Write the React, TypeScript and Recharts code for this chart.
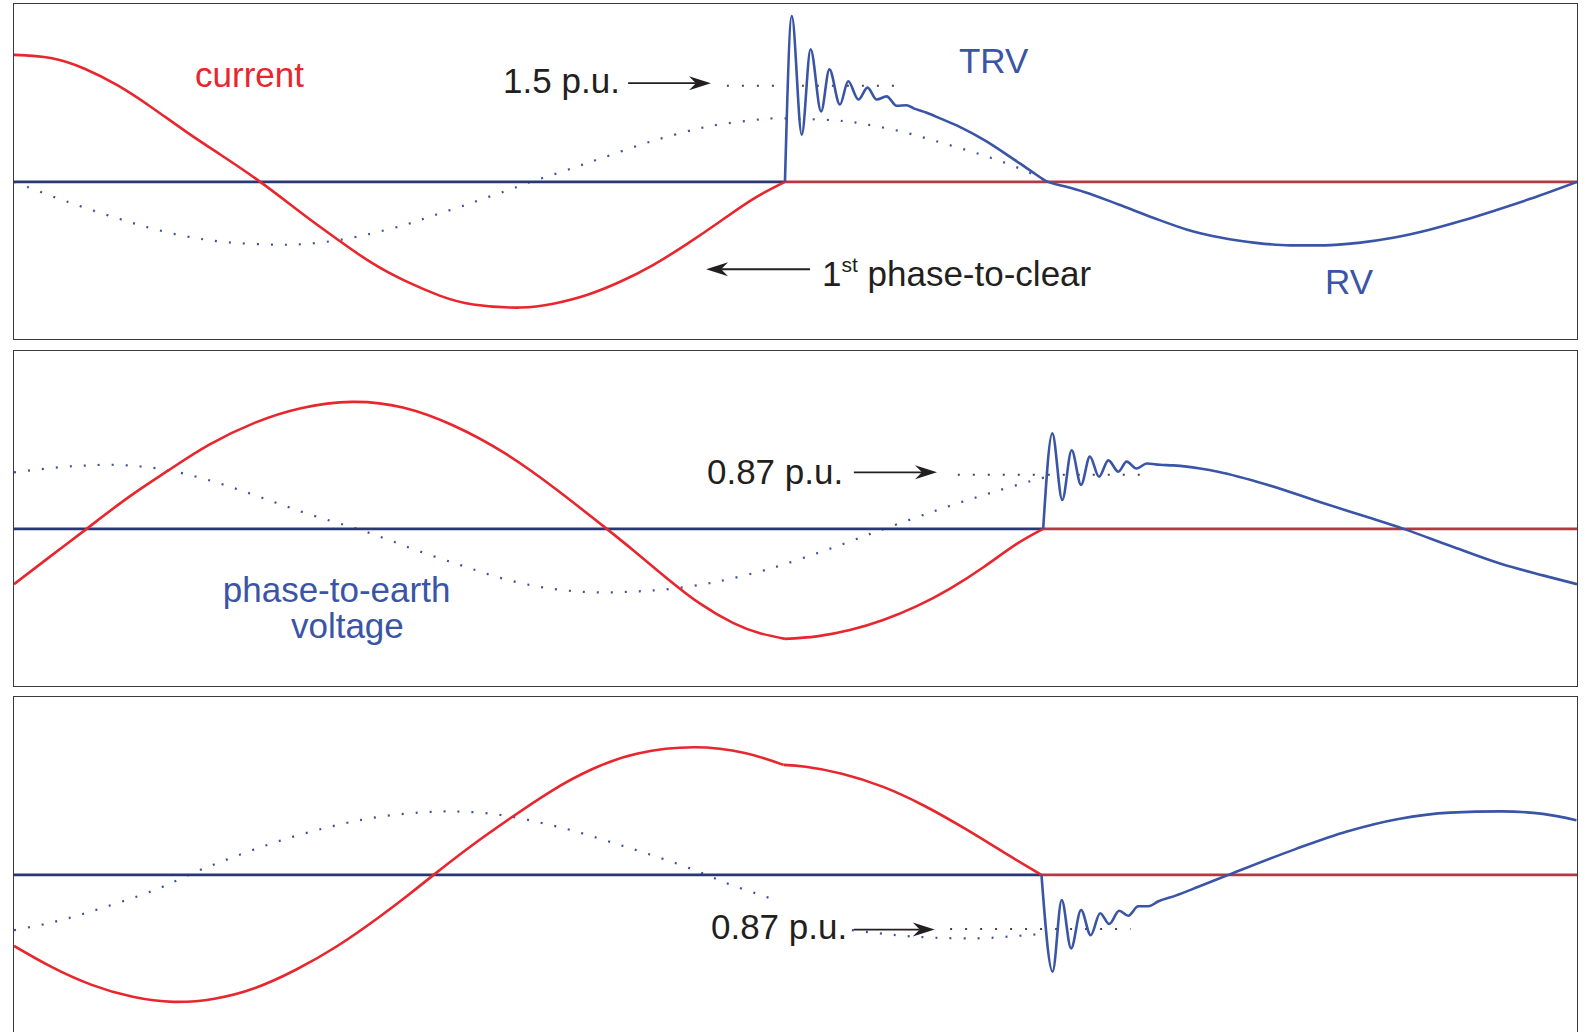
import React from "react";
import { LineChart, Line, XAxis, YAxis, ReferenceDot, ReferenceLine } from "recharts";

type Pt = [number, number];

// x: electrical degrees from the left edge of a panel, y: per unit (phase voltage peak = 1)

// panel 1 - first phase to clear
const current1: Pt[] = [
  [0, 2.02], [12.9, 1.97], [24.8, 1.8], [36.6, 1.53], [48.5, 1.18], [60.4, 0.8], [72.3, 0.44],
  [86.5, 0], [102, -0.53], [113.8, -0.92], [125.7, -1.29], [137.6, -1.58], [149.5, -1.81],
  [161.3, -1.95], [177.7, -2.0], [189.4, -1.94], [201.2, -1.8], [212.9, -1.59], [224.6, -1.32],
  [236.3, -0.99], [248, -0.63], [259.7, -0.27], [270.8, 0],
];
const currentOff1: Pt[] = [[270.8, 0], [549, 0]];
const breakerV1: Pt[] = [[0, 0], [270.8, 0]];
const trv1: Pt[] = [
  [270.8, 0], [273.2, 2.64], [276.7, 0.75], [279.8, 2.11], [283.5, 1.12], [286.4, 1.79],
  [290.1, 1.23], [293, 1.6], [296.6, 1.31], [299.8, 1.5], [303, 1.31], [306.5, 1.36], [310, 1.21],
  [313.5, 1.22], [316, 1.17], [320.6, 1.1], [325.3, 1.01], [332, 0.88], [341, 0.66], [350.8, 0.37],
  [357, 0.18], [363.2, 0], [369, -0.07], [375.9, -0.16], [388, -0.36], [400.1, -0.57],
  [412.1, -0.76], [424.2, -0.89], [436.2, -0.97], [448.3, -1.01], [460.3, -1.01], [472.3, -0.97],
  [484.4, -0.89], [496.5, -0.77], [508.5, -0.62], [520.5, -0.45], [532.6, -0.27], [549, 0],
];
const phaseV1: Pt[] = [
  [0, 0], [4.6, -0.08], [14.7, -0.25], [24.8, -0.41], [34.9, -0.56], [44.4, -0.69], [54.5, -0.81],
  [64.6, -0.9], [74.6, -0.96], [85.3, -0.99], [96, -1.0], [106.7, -0.97], [117.4, -0.9],
  [127.5, -0.8], [137.6, -0.68], [147, -0.54], [157.2, -0.39], [167.3, -0.23], [176.7, -0.08],
  [181.4, 0], [191, 0.14], [200.7, 0.29], [210.4, 0.44], [220.7, 0.6], [230.4, 0.73],
  [240.6, 0.85], [250.3, 0.93], [261.2, 0.99], [270, 1.01], [287.8, 0.98], [298.7, 0.92],
  [310.8, 0.81], [322.9, 0.66], [335, 0.5], [345.8, 0.34], [355.5, 0.17], [363, 0],
];
const level1: Pt[] = [[250.4, 1.53], [313.4, 1.53]];

// panel 2 - second phase
const current2a: Pt[] = [
  [0, -0.88], [13, -0.43], [25.5, 0], [39.8, 0.49], [54.2, 0.93], [68.6, 1.34], [84.7, 1.69],
  [100.8, 1.92], [118.7, 2.02], [136.6, 1.93], [154.5, 1.64], [172.5, 1.2], [190.4, 0.63],
  [208.2, 0], [217.5, -0.34], [229.2, -0.78], [241, -1.19], [252.7, -1.5], [262, -1.66],
  [270.8, -1.75],
];
const current2b: Pt[] = [
  [270.8, -1.75], [282, -1.71], [293.6, -1.61], [305.3, -1.45], [317.1, -1.23], [328.8, -0.95],
  [340.5, -0.61], [352.2, -0.24], [361.5, 0],
];
const currentOff2: Pt[] = [[361.5, 0], [549, 0]];
const breakerV2: Pt[] = [[0, 0], [361.5, 0]];
const trv2: Pt[] = [
  [361.5, 0], [364.7, 1.52], [368.2, 0.46], [371.5, 1.25], [374.8, 0.7], [377.9, 1.15],
  [381.1, 0.83], [384.4, 1.09], [387.9, 0.91], [390.8, 1.07], [394.3, 0.96], [397.9, 1.04],
  [402.5, 1.02], [407.2, 1.01], [411.9, 0.99], [416.6, 0.96], [422.9, 0.91], [441.1, 0.69],
  [459.2, 0.42], [477.3, 0.16], [488.1, 0], [504.4, -0.27], [522.5, -0.56], [537, -0.74],
  [549, -0.88],
];
const phaseV2: Pt[] = [
  [0, 0.9], [9.4, 0.95], [18.4, 0.99], [26.4, 1.01], [34.5, 1.02], [42.6, 1.0], [50.6, 0.96],
  [59.6, 0.88], [70.3, 0.75], [81.1, 0.59], [91.8, 0.42], [102.5, 0.25], [113.3, 0.1],
  [120.5, 0], [131.3, -0.17], [143.8, -0.38], [156.4, -0.57], [167.1, -0.73], [177.8, -0.86],
  [188.5, -0.95], [199.3, -1.0], [210, -1.01], [220.9, -0.99], [231.6, -0.95], [242.3, -0.88],
  [251, -0.8], [261, -0.69], [270.8, -0.56], [282.5, -0.38], [292.5, -0.22], [300.7, -0.08],
  [305.5, 0], [316.2, 0.17], [327, 0.34], [337.9, 0.5], [348.7, 0.65], [359.6, 0.79], [363.2, 0.83],
];
const level2: Pt[] = [[331.5, 0.86], [398, 0.86]];

// panel 3 - third phase
const current3a: Pt[] = [
  [0, -1.13], [13, -1.46], [27.3, -1.75], [41.7, -1.94], [56, -2.02], [70.4, -1.97],
  [84.7, -1.8], [99, -1.51], [113.3, -1.14], [127.7, -0.69], [138.5, -0.32], [147.4, 0],
  [160, 0.44], [174.3, 0.9], [188.6, 1.33], [203, 1.68], [219.1, 1.93], [238.8, 2.03],
  [256.7, 1.94], [270.3, 1.75],
];
const current3b: Pt[] = [
  [270.3, 1.75], [278.1, 1.72], [290.8, 1.61], [305.3, 1.4], [319.7, 1.1], [334.2, 0.73],
  [348.7, 0.33], [360.9, 0],
];
const currentOff3: Pt[] = [[360.9, 0], [549, 0]];
const breakerV3: Pt[] = [[0, 0], [360.9, 0]];
const trv3: Pt[] = [
  [360.9, 0], [364.8, -1.54], [368, -0.4], [371.3, -1.17], [374.8, -0.56], [378.2, -0.96],
  [381.5, -0.61], [384.7, -0.78], [388.2, -0.57], [391.4, -0.65], [394.9, -0.5], [398.4, -0.5],
  [402, -0.42], [408, -0.33], [416, -0.19], [426.6, 0], [450.1, 0.41], [468.2, 0.69],
  [486.3, 0.89], [504.4, 0.99], [522.5, 1.01], [537, 0.97], [548.8, 0.87],
];
const phaseV3a: Pt[] = [
  [0, -0.88], [13, -0.76], [25.1, -0.61], [37.6, -0.43], [50.6, -0.22], [61.4, 0], [72.2, 0.2],
  [84.7, 0.41], [99, 0.62], [113.3, 0.79], [127.7, 0.92], [142, 0.99], [152.8, 1.01],
  [163.5, 0.99], [174.3, 0.93], [185, 0.83], [195.8, 0.71], [208.3, 0.54], [220.9, 0.36],
  [233.4, 0.17], [243.3, 0], [251.4, -0.15], [260.3, -0.29], [267.5, -0.4],
];
const phaseV3b: Pt[] = [
  [294.3, -0.88], [310, -0.96], [323.4, -1.0], [338, -1.01], [350, -0.98], [361.1, -0.94],
];
const level3: Pt[] = [[328.8, -0.86], [392.2, -0.86]];

const W = 1563;
const H = 335;
const X_DOMAIN: [number, number] = [0, 549];
const Y_DOMAIN: [number, number] = [-2.5, 2.83];

const RED = "#e8262d";
const BLUE = "#3a54a6";
const NAVY = "#2a3775";
const MAROON = "#b23a40";
const DOTS = "#3b52a3";
const INK = "#231f20";
const FONT = '"Liberation Sans", Arial, Helvetica, sans-serif';

const rows = (pts: Pt[]) => pts.map(([x, y]) => ({ x, y }));

type Curve = "natural" | "monotone" | "linear";
type Series = { pts: Pt[]; stroke: string; width: number; dash?: string; curve: Curve };
type Note = { x: number; y: number; text: string; color: string; anchor?: "start" | "middle"; sup?: [string, string] };
type Arrow = { from: Pt; to: Pt };

function Caption(p: any) {
  const { cx, cy, note } = p as { cx: number; cy: number; note: Note };
  if (note.sup) {
    return (
      <text x={cx} y={cy} fill={note.color} fontSize={35} fontFamily={FONT}>
        <tspan>{note.text}</tspan>
        <tspan fontSize={21} dy={-14}>{note.sup[0]}</tspan>
        <tspan dy={14}>{note.sup[1]}</tspan>
      </text>
    );
  }
  return (
    <text x={cx} y={cy} fill={note.color} fontSize={35} fontFamily={FONT} textAnchor={note.anchor ?? "start"}>
      {note.text}
    </text>
  );
}

function ArrowShape(p: any) {
  const { x1, y1, x2, y2 } = p;
  const dx = x2 - x1;
  const dy = y2 - y1;
  const len = Math.hypot(dx, dy) || 1;
  const ux = dx / len;
  const uy = dy / len;
  const L = 22;
  const half = 7;
  const notch = 15;
  const bx = x2 - ux * L;
  const by = y2 - uy * L;
  const nx = -uy;
  const ny = ux;
  const head = `M${x2},${y2} L${bx + nx * half},${by + ny * half} L${x2 - ux * notch},${y2 - uy * notch} L${bx - nx * half},${by - ny * half} Z`;
  return (
    <g>
      <line x1={x1} y1={y1} x2={x2 - ux * notch} y2={y2 - uy * notch} stroke={INK} strokeWidth={1.8} />
      <path d={head} fill={INK} />
    </g>
  );
}

function Panel({ top, series, notes, arrows }: { top: number; series: Series[]; notes: Note[]; arrows: Arrow[] }) {
  return (
    <div
      style={{
        position: "absolute",
        left: 12.5,
        top: top - 1.5,
        width: W,
        height: H,
        border: "1.5px solid #3a3a3a",
        background: "#fff",
      }}
    >
      <LineChart width={W} height={H} margin={{ top: 0, right: 0, bottom: 0, left: 0 }}>
        <XAxis type="number" dataKey="x" domain={X_DOMAIN} hide allowDataOverflow />
        <YAxis type="number" domain={Y_DOMAIN} hide allowDataOverflow />
        {series.map((s, i) => (
          <Line
            key={i}
            data={rows(s.pts)}
            dataKey="y"
            type={s.curve}
            stroke={s.stroke}
            strokeWidth={s.width}
            strokeDasharray={s.dash}
            dot={false}
            activeDot={false}
            isAnimationActive={false}
          />
        ))}
        {arrows.map((a, i) => (
          <ReferenceLine
            key={`a${i}`}
            segment={[{ x: a.from[0], y: a.from[1] }, { x: a.to[0], y: a.to[1] }]}
            shape={(p: any) => <ArrowShape {...p} />}
          />
        ))}
        {notes.map((n, i) => (
          <ReferenceDot
            key={`n${i}`}
            x={n.x}
            y={n.y}
            r={1}
            shape={(p: any) => <Caption {...p} note={n} />}
          />
        ))}
      </LineChart>
    </div>
  );
}

const dotted = (pts: Pt[]): Series => ({ pts, stroke: DOTS, width: 2.2, dash: "2 12", curve: "natural" });
const level = (pts: Pt[]): Series => ({ pts, stroke: "#444", width: 2, dash: "2 13", curve: "linear" });
const flat = (pts: Pt[], stroke: string): Series => ({ pts, stroke, width: 2.6, curve: "linear" });
const current = (pts: Pt[]): Series => ({ pts, stroke: RED, width: 2.6, curve: "natural" });
const trv = (pts: Pt[]): Series => ({ pts, stroke: BLUE, width: 2.6, curve: "monotone" });

export default function App() {
  return (
    <div style={{ position: "absolute", left: 0, top: 0, width: 1588, height: 1032, overflow: "hidden", background: "#fff" }}>
      <Panel
        top={4}
        series={[
          dotted(phaseV1),
          level(level1),
          flat(breakerV1, NAVY),
          flat(currentOff1, MAROON),
          current(current1),
          trv(trv1),
        ]}
        arrows={[
          { from: [215.7, 1.57], to: [244.8, 1.57] },
          { from: [279.6, -1.39], to: [243.1, -1.39] },
        ]}
        notes={[
          { x: 63.6, y: 1.51, text: "current", color: RED },
          { x: 171.8, y: 1.41, text: "1.5 p.u.", color: INK },
          { x: 331.9, y: 1.73, text: "TRV", color: BLUE },
          { x: 283.8, y: -1.65, text: "1", color: INK, sup: ["st", " phase-to-clear"] },
          { x: 460.5, y: -1.78, text: "RV", color: BLUE },
        ]}
      />
      <Panel
        top={351}
        series={[
          dotted(phaseV2),
          level(level2),
          flat(breakerV2, NAVY),
          flat(currentOff2, MAROON),
          current(current2a),
          current(current2b),
          trv(trv2),
        ]}
        arrows={[{ from: [295, 0.9], to: [324.2, 0.9] }]}
        notes={[
          { x: 243.4, y: 0.72, text: "0.87 p.u.", color: INK },
          { x: 113.3, y: -1.16, text: "phase-to-earth", color: BLUE, anchor: "middle" },
          { x: 117.1, y: -1.74, text: "voltage", color: BLUE, anchor: "middle" },
        ]}
      />
      <Panel
        top={697}
        series={[
          dotted(phaseV3a),
          dotted(phaseV3b),
          level(level3),
          flat(breakerV3, NAVY),
          flat(currentOff3, MAROON),
          current(current3a),
          current(current3b),
          trv(trv3),
        ]}
        arrows={[{ from: [295, -0.87], to: [323.4, -0.87] }]}
        notes={[{ x: 244.8, y: -1.02, text: "0.87 p.u.", color: INK }]}
      />
    </div>
  );
}
